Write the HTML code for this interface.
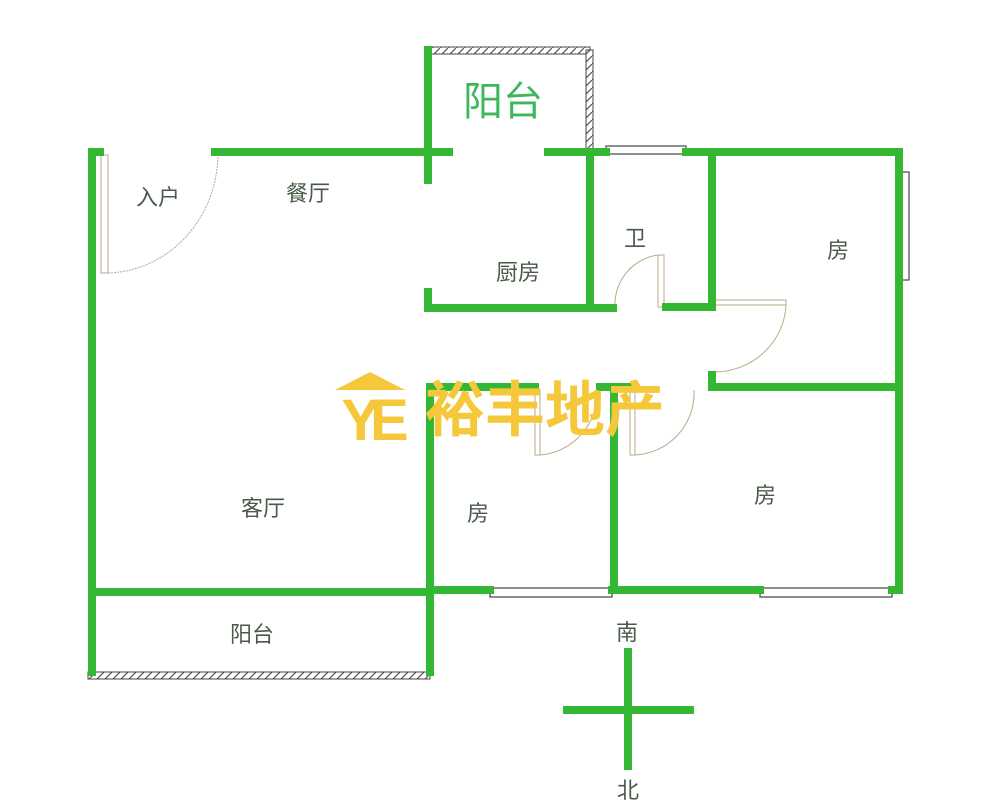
<!DOCTYPE html><html><head><meta charset="utf-8"><style>body{margin:0;background:#fff}svg{display:block}text{font-family:"Liberation Sans","Noto Sans CJK SC",sans-serif}</style></head><body>
<svg width="1000" height="810" viewBox="0 0 1000 810">
<defs><pattern id="h" width="8" height="8" patternUnits="userSpaceOnUse"><rect width="8" height="8" fill="#fff"/><path d="M0 8L8 0" stroke="#555" stroke-width="1.2"/></pattern></defs>
<g fill="none" stroke="#b9a98a" stroke-width="1">
<rect x="101" y="155" width="7" height="118" fill="#fff"/>
<path d="M108 273 A113 120 0 0 0 218 152" stroke-dasharray="2 1"/>
<rect x="658" y="255" width="6" height="52"/><path d="M658 255 A50 50 0 0 0 615 307"/>
<rect x="712" y="300" width="74" height="5"/><path d="M786 305 A72 70 0 0 1 714 372"/>
<rect x="535" y="390" width="5" height="65"/><path d="M540 455 A62 62 0 0 0 597 390"/>
<rect x="630" y="390" width="5" height="65"/><path d="M635 455 A62 62 0 0 0 694 390"/>
</g>
<g fill="#fff" stroke="#444" stroke-width="1.2">
<rect x="606" y="146" width="80" height="8"/><rect x="902" y="172" width="7" height="108"/>
<rect x="490" y="588" width="122" height="9"/><rect x="760" y="588" width="132" height="9"/>
</g>
<rect x="428" y="47" width="162" height="7" fill="url(#h)" stroke="#444"/>
<rect x="586" y="50" width="7" height="104" fill="url(#h)" stroke="#444"/>
<rect x="88" y="672" width="342" height="7" fill="url(#h)" stroke="#444"/>
<g stroke="#34b834" stroke-width="8" stroke-linecap="square" fill="none">
<path d="M92 152V672"/><path d="M92 152H100"/><path d="M215 152H449"/><path d="M548 152H606M686 152H899V588"/>
<path d="M428 50V180"/><path d="M428 292V308H590"/><path d="M590 152V308H613"/><path d="M666 307H712V152"/>
<path d="M712 375V387H899"/><path d="M92 592H430V672"/><path d="M430 387V592"/><path d="M430 387H535"/>
<path d="M600 387H630M614 387V590"/><path d="M430 590H490M612 590H760M892 590H899"/>
<path d="M628 652V766M567 710H690"/>
</g>
<g fill="#4a5a4a" font-size="22" text-anchor="middle">
<text x="158" y="205">入户</text><text x="308" y="201">餐厅</text><text x="518" y="280">厨房</text>
<text x="635" y="246">卫</text><text x="838" y="258">房</text><text x="765" y="503">房</text>
<text x="263" y="516">客厅</text><text x="478" y="521">房</text><text x="252" y="642">阳台</text>
<text x="627" y="640">南</text><text x="628" y="798">北</text>
</g>
<text x="503" y="115" font-size="40" fill="#3cb85a" text-anchor="middle">阳台</text>
<g fill="#f5c83c">
<path d="M335 390L370 372L405 390Z"/>
<text x="370" y="440" font-size="58" font-weight="bold" text-anchor="middle" letter-spacing="-10">YE</text>
<text x="545" y="431" font-size="60" font-weight="bold" text-anchor="middle">裕丰地产</text>
</g>
</svg></body></html>
